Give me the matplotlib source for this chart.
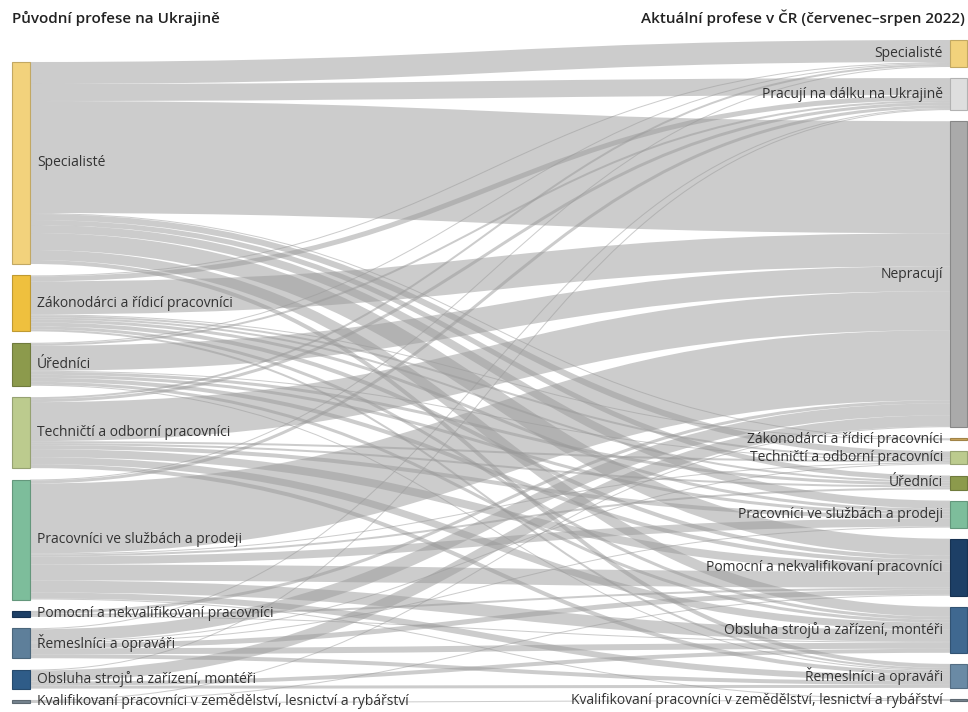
import numpy as np
import matplotlib.pyplot as plt
from matplotlib.path import Path
from matplotlib.patches import PathPatch, Rectangle
from matplotlib.colors import to_rgb

plt.rcParams['font.family'] = ['Open Sans', 'DejaVu Sans']

# %% Data

sources = ["Specialisté", "Zákonodárci a řídicí pracovníci", "Úředníci",
           "Techničtí a odborní pracovníci", "Pracovníci ve službách a prodeji",
           "Pomocní a nekvalifikovaní pracovníci", "Řemeslníci a opraváři",
           "Obsluha strojů a zařízení, montéři",
           "Kvalifikovaní pracovníci v zemědělství, lesnictví a rybářství"]

targets = ["Specialisté", "Pracují na dálku na Ukrajině", "Nepracují",
           "Zákonodárci a řídicí pracovníci", "Techničtí a odborní pracovníci",
           "Úředníci", "Pracovníci ve službách a prodeji",
           "Pomocní a nekvalifikovaní pracovníci",
           "Obsluha strojů a zařízení, montéři", "Řemeslníci a opraváři",
           "Kvalifikovaní pracovníci v zemědělství, lesnictví a rybářství"]

# rows = original profession, columns = current profession
flows = np.array([
    [22, 17, 112, 1, 6, 5, 8, 17, 10, 4, 0],   # Specialisté
    [1, 5, 33, 1, 2, 2, 3, 4, 3, 2, 0],        # Zákonodárci
    [1, 2, 25, 0, 1, 3, 3, 4, 3, 1, 0],        # Úředníci
    [2, 3, 39, 0, 2, 2, 4, 8, 7, 4, 0],        # Techničtí
    [1, 3, 70, 0, 1, 2, 8, 16, 12, 6, 1],      # Služby a prodej
    [0, 0, 3, 0, 0, 0, 0, 2, 1, 0, 0],         # Pomocní
    [0, 1, 12, 0, 1, 0, 1, 5, 6, 4, 0],        # Řemeslníci
    [0, 1, 11, 0, 0, 0, 0, 0, 4, 3, 0],        # Obsluha
    [0, 0, 1, 0, 0, 0, 0, 1, 0, 0, 1],         # Kvalifikovaní zem.
])

source_colors = ["#f2d27c", "#efc03e", "#8c9a4c", "#bccb8e", "#7dbd9b",
                 "#1d3f66", "#5e7f9a", "#2f5c88", "#75838e"]
target_colors = ["#f2d27c", "#dedede", "#aaaaaa", "#c9a45a", "#bccb8e",
                 "#8c9a4c", "#7dbd9b", "#1d3f66", "#3f6890", "#6a8aa5",
                 "#75838e"]

# %% Layout (pixels)

W, H = 968, 712
x_left, x_right, node_w = 12, 950, 18
left_top, left_bottom = 62, 703
right_top, right_bottom = 40, 701

src_tot = flows.sum(axis=1)
tgt_tot = flows.sum(axis=0)
total = src_tot.sum()
ky = 1.0
gap_l = (left_bottom - left_top - total * ky) / (len(sources) - 1)
gap_r = (right_bottom - right_top - total * ky) / (len(targets) - 1)

src_y = left_top + np.concatenate([[0], np.cumsum(src_tot * ky + gap_l)[:-1]])
tgt_y = right_top + np.concatenate([[0], np.cumsum(tgt_tot * ky + gap_r)[:-1]])

fig = plt.figure(figsize=(W / 100, H / 100), dpi=100)
ax = fig.add_axes([0, 0, 1, 1])
ax.set_xlim(0, W)
ax.set_ylim(H, 0)
ax.axis("off")

# %% Links
x0 = x_left + node_w
x1 = x_right
xm = (x0 + x1) / 2
link_list = []
for i in range(len(sources)):
    for j in range(len(targets)):
        w = flows[i, j] * ky
        if w <= 0:
            continue
        ys = src_y[i] + flows[i, :j].sum() * ky + w / 2
        yt = tgt_y[j] + flows[:i, j].sum() * ky + w / 2
        link_list.append((ys, yt, w))

for ys, yt, w in link_list:
    path = Path([(x0, ys), (xm, ys), (xm, yt), (x1, yt)],
                [Path.MOVETO, Path.CURVE4, Path.CURVE4, Path.CURVE4])
    ax.add_patch(PathPatch(path, fill=False, edgecolor="#9a9a9a", alpha=0.5,
                           lw=max(w, 0.6) * 0.72, capstyle="butt"))


def darker(c, f=0.8):
    return tuple(v * f for v in to_rgb(c))


# %% Nodes and labels
for i, name in enumerate(sources):
    h = src_tot[i] * ky
    ax.add_patch(Rectangle((x_left, src_y[i]), node_w, h,
                           facecolor=source_colors[i],
                           edgecolor=darker(source_colors[i]), lw=0.8))
    ax.text(x_left + node_w + 7, src_y[i] + h / 2, name, ha="left",
            va="center", fontsize=10, color="#333333")

for j, name in enumerate(targets):
    h = tgt_tot[j] * ky
    ax.add_patch(Rectangle((x_right, tgt_y[j]), node_w - 1, h,
                           facecolor=target_colors[j],
                           edgecolor=darker(target_colors[j]), lw=0.8))
    ax.text(x_right - 7, tgt_y[j] + h / 2, name, ha="right",
            va="center", fontsize=10, color="#333333")

ax.text(12, 18, "Původní profese na Ukrajině", ha="left", va="center",
        fontsize=11, fontweight="semibold", color="#222222")
ax.text(965, 18, "Aktuální profese v ČR (červenec–srpen 2022)", ha="right",
        va="center", fontsize=11, fontweight="semibold", color="#222222")

fig.savefig("out.png", dpi=100)
